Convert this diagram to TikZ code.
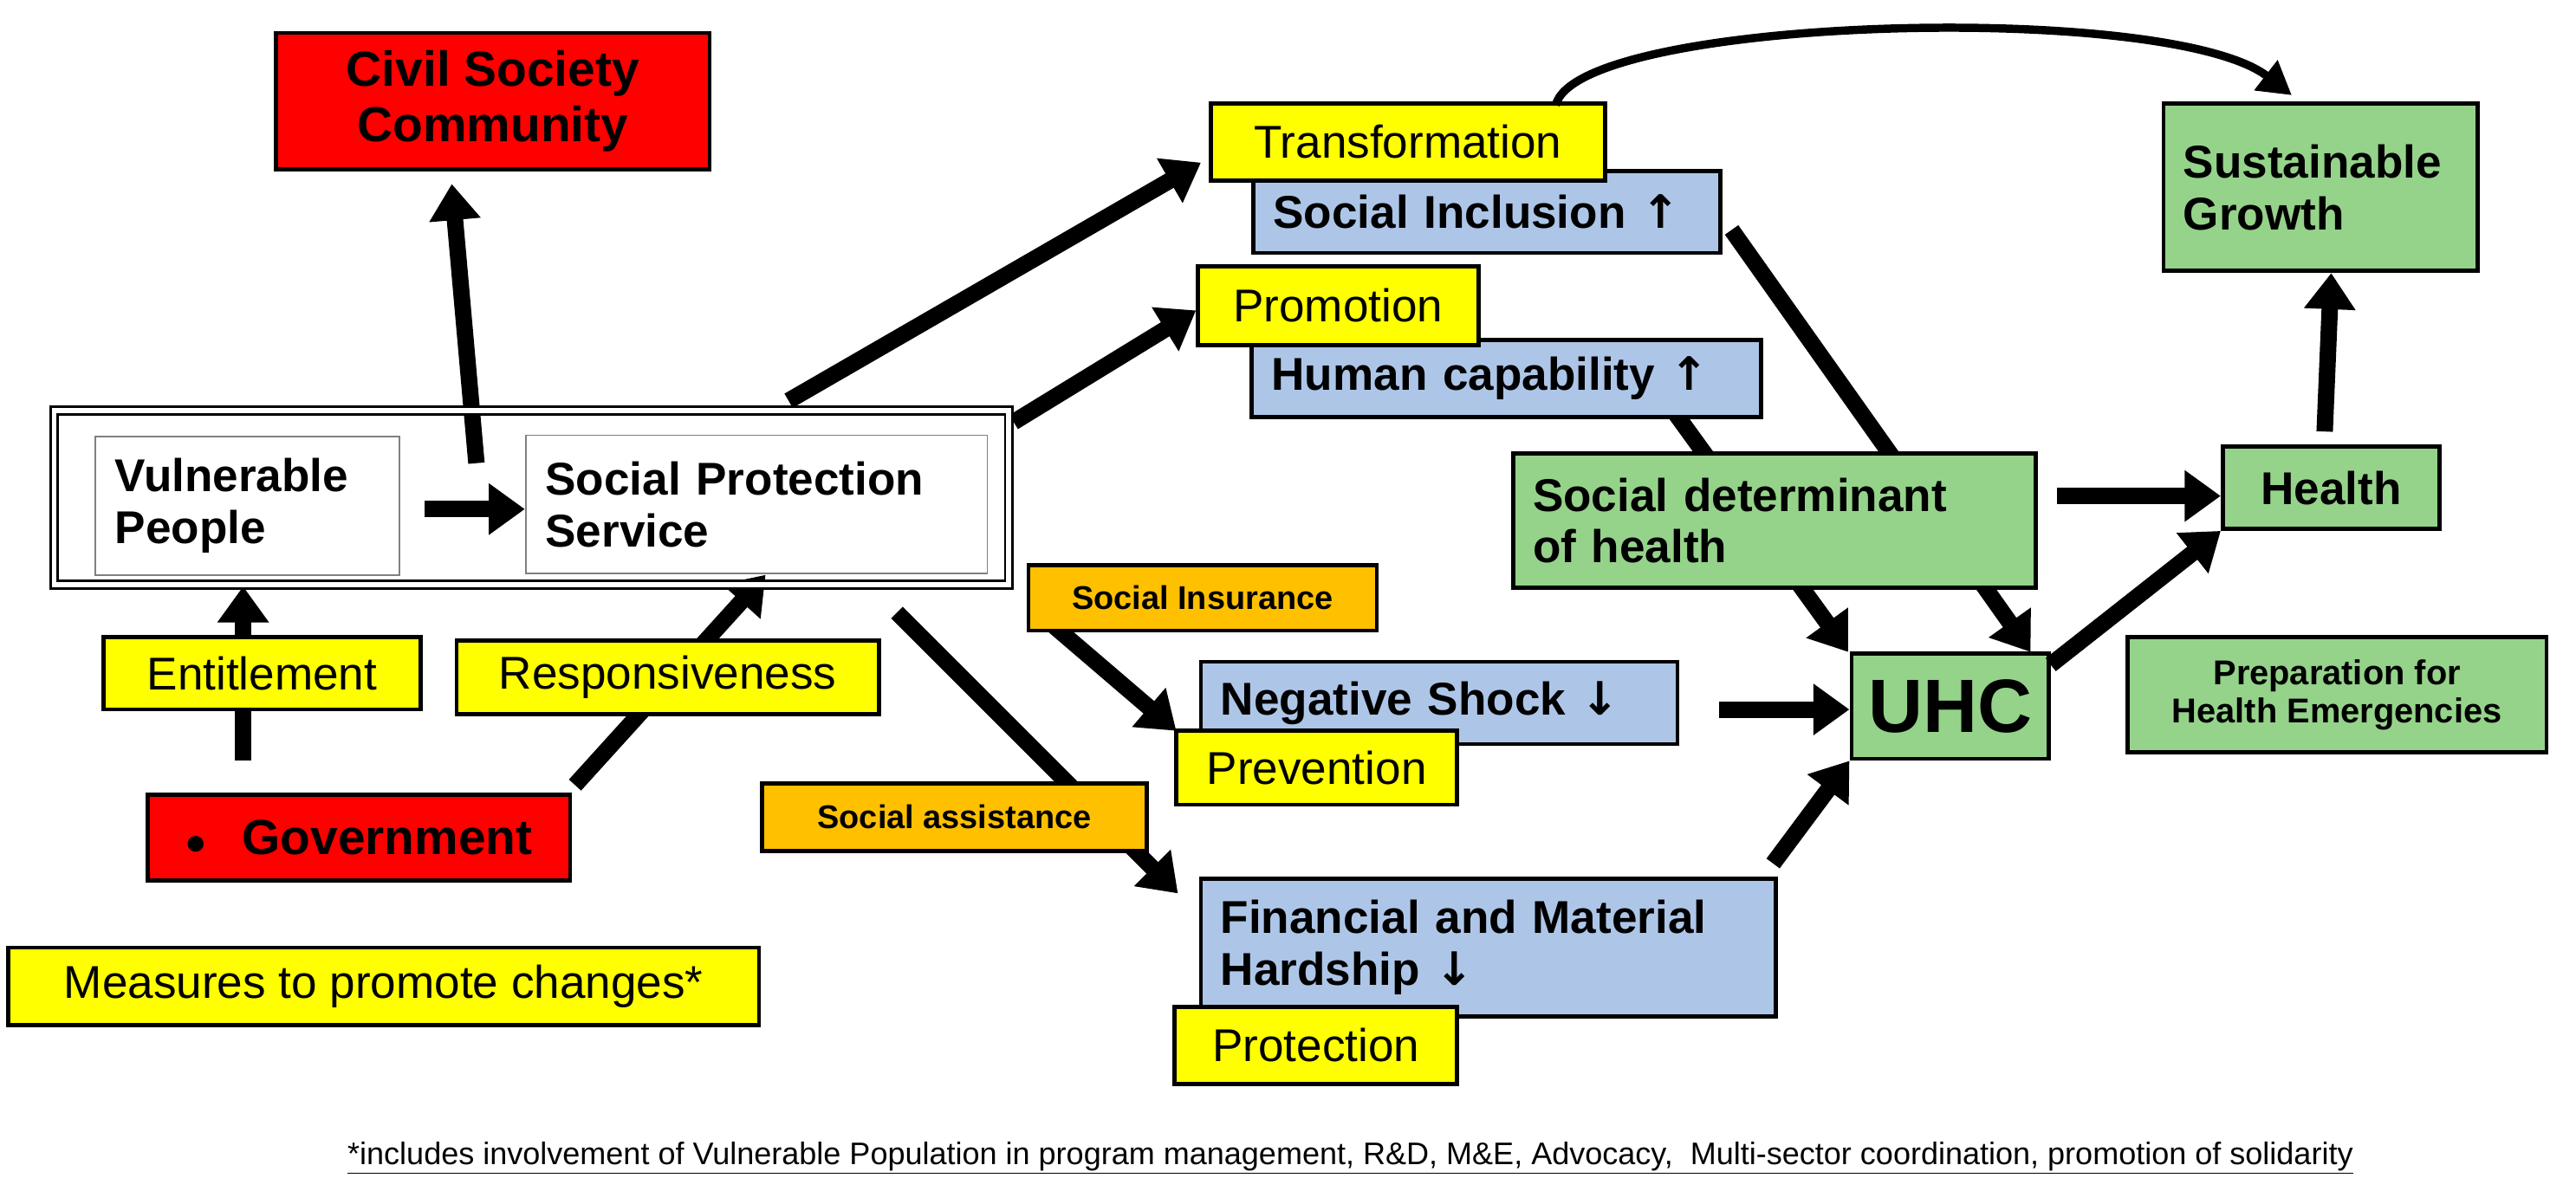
\documentclass[tikz,border=0pt]{standalone}
\usepackage{fontspec}
\setmainfont{Liberation Sans}
\newfontfamily\arr{DejaVu Sans}
\usetikzlibrary{arrows.meta,backgrounds}
\definecolor{cred}{HTML}{FF0000}
\definecolor{cyel}{HTML}{FFFF00}
\definecolor{cblue}{HTML}{ADC6E8}
\definecolor{cgreen}{HTML}{95D38A}
\definecolor{corange}{HTML}{FFC000}
\newcommand{\fs}[1]{\fontsize{#1pt}{\dimexpr #1pt*6/5\relax}\selectfont}
\begin{document}
\begin{tikzpicture}[x=1pt,y=-1pt,
  bx/.style 2 args={draw=black,line width=2.5pt,minimum width=#1pt,minimum height=#2pt,inner sep=0pt,align=center},
  lb/.style 2 args={draw=black,line width=2.5pt,minimum width=#1pt,minimum height=#2pt,inner sep=0pt,text width=#1pt-24pt,align=left},
  ib/.style 2 args={draw=gray,line width=1pt,fill=white,minimum width=#1pt,minimum height=#2pt,inner sep=0pt,text width=#1pt-24pt,align=left},
  big/.style={line width=10pt,-{Triangle[length=22pt,width=30pt]}},
  norm/.style={font=\fs{28}},
  bold/.style={font=\fs{28}\bfseries},
]
\useasboundingbox (0,0) rectangle (1568,725);

% nodes
\node[bx={264}{83},fill=cred,font=\fs{30}\bfseries] (civil) at (300,61.5) {Civil Society\\[-2pt]Community};
\draw[double,double distance=3pt,line width=1.5pt] (33,250) rectangle (614,356);
\node[ib={185}{84},bold] (vp) at (150.5,308) {Vulnerable\\[-2pt]People};
\node[ib={281}{84},bold] (sps) at (460.5,307) {Social Protection\\[-2pt]Service};
\node[bx={193}{44},fill=cyel,norm] (ent) at (159.5,410) {Entitlement};
\node[bx={257}{45},fill=cyel,norm] (resp) at (406.5,412.5) {Responsiveness};
\node[bx={257}{52},fill=cred,font=\fs{30}\bfseries] (gov) at (218.5,510) {$\bullet$\hspace{22pt}Government};
\node[bx={457}{47},fill=cyel,norm] (meas) at (233.5,600.5) {Measures to promote changes*};
\node[font=\fs{19}] (foot) at (822,705) {\underline{*includes involvement of Vulnerable Population in program management, R\&D, M\&E, Advocacy,\ \ Multi-sector coordination, promotion of solidarity}};

\node[lb={284}{50},fill=cblue,bold] (incl) at (905,129) {Social Inclusion {\arr↑}};
\node[bx={240}{47},fill=cyel,norm] (trans) at (857,86.5) {Transformation};
\node[lb={310}{47},fill=cblue,bold] (hum) at (917,230.5) {Human capability {\arr↑}};
\node[bx={171}{48},fill=cyel,norm] (prom) at (814.5,186) {Promotion};
\node[lb={318}{82},fill=cgreen,bold] (sdh) at (1080,317) {Social determinant\\[-2pt]of health};
\node[bx={132}{50},fill=cgreen,bold] (health) at (1419,297) {Health};
\node[lb={191}{102},fill=cgreen,bold] (sg) at (1412.5,114) {Sustainable\\[-2pt]Growth};
\node[bx={212}{40},fill=corange,font=\fs{20}\bfseries] (sins) at (732,364) {Social Insurance};
\node[lb={290}{50},fill=cblue,bold] (neg) at (876,428) {Negative Shock {\arr↓}};
\node[bx={171}{45},fill=cyel,norm] (prev) at (801.5,467.5) {Prevention};
\node[bx={120}{64},fill=cgreen,font=\fs{46}\bfseries] (uhc) at (1187,430) {UHC};
\node[bx={255}{70},fill=cgreen,font=\fs{21}\bfseries] (prep) at (1422.5,423) {Preparation for\\[-2pt]Health Emergencies};
\node[bx={234}{41},fill=corange,font=\fs{20}\bfseries] (sass) at (581,497.5) {Social assistance};
\node[lb={350}{84},fill=cblue,bold] (fin) at (906,577) {Financial and Material\\[-2pt]Hardship {\arr↓}};
\node[bx={172}{47},fill=cyel,norm] (prot) at (801,636.5) {Protection};

% coordinates for connector ends
\coordinate (a1) at (290,282);
\coordinate (a2) at (275,112);
\coordinate (b1) at (480,244);
\coordinate (b2) at (731,99);
\coordinate (c1) at (617,257);
\coordinate (c2) at (728,189);
\coordinate (d1) at (546,373);
\coordinate (d2) at (717,544);
\coordinate (e1) at (632,373);
\coordinate (e2) at (716,445);
\coordinate (f1) at (1054,140);
\coordinate (f2) at (1236,397);
\coordinate (g1) at (1020,252);
\coordinate (g2) at (1125,397);
\coordinate (h1) at (350,478);
\coordinate (h2) at (466,350);
\coordinate (i1) at (148,463);
\coordinate (i2) at (148,357);
\coordinate (j1) at (947,64);
\coordinate (j2) at (1395,58);

\begin{scope}[on background layer]
\fill[white] (0,0) rectangle (1568,725);
\draw[big] (a1) -- (a2);
\draw[big] (b1) -- (b2);
\draw[big] (c1) -- (c2);
\draw[big] (d1) -- (d2);
\draw[big] (e1) -- (e2);
\draw[big] (f1) -- (f2);
\draw[big] (g1) -- (g2);
\draw[big] (h1) -- (h2);
\draw[big] (i1) -- (i2);
\end{scope}
\draw[big] (vp.east) ++(15,2) -- (sps.west|-0,310);
\draw[big] (sdh.east|-0,302) ++(12,0) -- (health.west|-0,302);
\draw[big] (neg.east|-0,432) ++(24,0) -- (uhc.west|-0,432);
\draw[big] (fin.north east) ++(-3,-8) -- (uhc.south west);
\draw[big] (uhc.north east) ++(0,8) -- (health.south west);
\draw[big] (health.north) ++(-4,-8) -- (sg.south -| health.north);
\draw[line width=5pt,-{Triangle[length=20pt,width=22pt]}] (j1) .. controls (960,10) and (1320,0) .. (j2);
\end{tikzpicture}
\end{document}
